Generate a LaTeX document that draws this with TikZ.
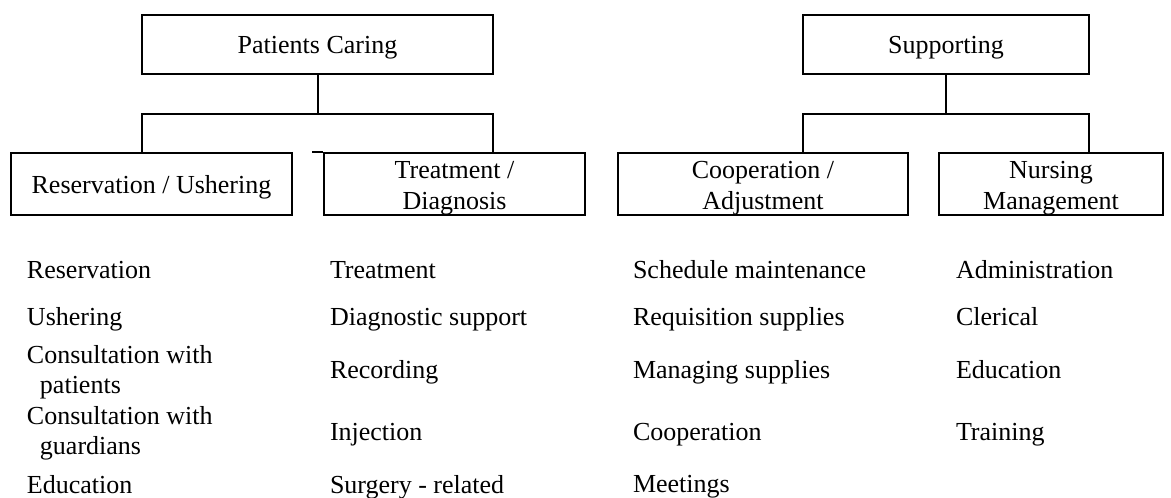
\documentclass[tikz,border=0pt]{standalone}
\usepackage{fontspec}
\setmainfont{Liberation Serif}
\newcommand{\boxtxt}[2][3pt]{\raisebox{-#1}[\height][\depth]{\begin{tabular}{@{}c@{}}#2\end{tabular}}}
\begin{document}
\begin{tikzpicture}[x=1pt,y=-1pt,line width=2pt,
  box/.style={draw, inner sep=0pt, align=center, font=\fontsize{26}{31}\selectfont},
  item/.style={anchor=base west, inner sep=0pt, font=\fontsize{26}{30}\selectfont}]
\useasboundingbox (0,0) rectangle (1171,498);
% level 1
\node[box, minimum width=351pt, minimum height=59pt] (pc) at (317.5,44.5) {\boxtxt{Patients Caring}};
\node[box, minimum width=286pt, minimum height=59pt] (sp) at (946,44.5) {\boxtxt{Supporting}};
% level 2
\node[box, minimum width=281pt, minimum height=62pt] (res) at (151.5,184) {\boxtxt{Reservation / Ushering}};
\node[box, minimum width=261pt, minimum height=62pt] (trt) at (454.5,184) {\boxtxt[4pt]{Treatment /\\Diagnosis}};
\node[box, minimum width=290pt, minimum height=62pt] (coo) at (763,184) {\boxtxt[4pt]{Cooperation /\\Adjustment}};
\node[box, minimum width=224pt, minimum height=62pt] (nur) at (1051,184) {\boxtxt[4pt]{Nursing\\Management}};
% connectors
\coordinate (hl) at (142,114);
\coordinate (hr) at (493,114);
\coordinate (sl) at (803,114);
\coordinate (sr) at (1089,114);
\draw (pc.south) -- (pc.south |- hl);
\draw (res.north -| hl) -- (hl) -- (hr) -- (trt.north -| hr);
\draw (sp.south) -- (sp.south |- sl);
\draw (coo.north -| sl) -- (sl) -- (sr) -- (nur.north -| sr);
\draw (trt.north west) -- ++(-11,0);
% column 1
\node[item] (a1) at (26,278) {Reservation};
\node[item] (a2) at (26,325) {Ushering};
\node[item] (a3) at (26,363) {\begin{tabular}[t]{@{}l@{}}Consultation with\\\hspace*{13pt}patients\end{tabular}};
\node[item] (a4) at (26,424) {\begin{tabular}[t]{@{}l@{}}Consultation with\\\hspace*{13pt}guardians\end{tabular}};
\node[item] (a5) at (26,493) {Education};
% column 2
\node[item] (b1) at (329,278) {Treatment};
\node[item] (b2) at (329,325) {Diagnostic support};
\node[item] (b3) at (329,378) {Recording};
\node[item] (b4) at (329,440) {Injection};
\node[item] (b5) at (329,493) {Surgery - related};
% column 3
\node[item] (c1) at (632,278) {Schedule maintenance};
\node[item] (c2) at (632,325) {Requisition supplies};
\node[item] (c3) at (632,378) {Managing supplies};
\node[item] (c4) at (632,440) {Cooperation};
\node[item] (c5) at (632,492) {Meetings};
% column 4
\node[item] (d1) at (955,278) {Administration};
\node[item] (d2) at (955,325) {Clerical};
\node[item] (d3) at (955,378) {Education};
\node[item] (d4) at (955,440) {Training};
\end{tikzpicture}
\end{document}
